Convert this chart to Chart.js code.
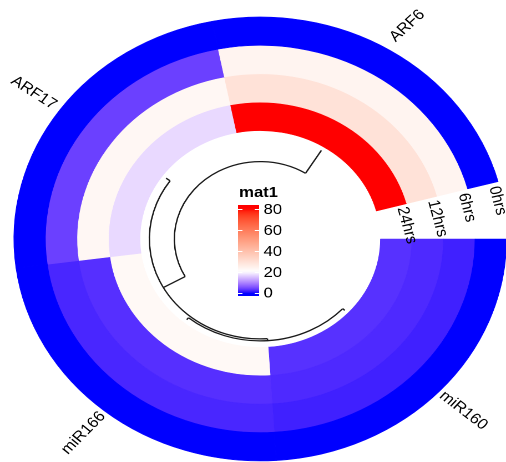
<!DOCTYPE html>
<html>
<head>
<meta charset="utf-8">
<script src="https://cdn.jsdelivr.net/npm/chart.js@4/dist/chart.umd.min.js"></script>
<style>
  html, body { margin: 0; padding: 0; background: #fff; overflow: hidden; }
  #wrap { position: absolute; left: 0; top: 0; width: 456px; height: 462px;
          transform: scaleX(1.1096); transform-origin: 0 0; }
</style>
</head>
<body>
<div id="wrap"><canvas id="c" width="456" height="462"></canvas></div>
<script>
// Sectors, listed clockwise from 3 o'clock
const genes = ['miR160', 'miR166', 'ARF17', 'ARF6'];
// Tracks, outermost first
const timepoints = ['0hrs', '6hrs', '12hrs', '24hrs'];
// Expression per gene (same order as genes)
const hrs0  = [0, 0, 0, 0];
const hrs6  = [1.3, 1.7, 3.6, 23.5];
const hrs12 = [1.9, 2.3, 22.5, 29];
const hrs24 = [2.4, 22, 16.8, 80];
// Legend
const legendTitle = 'mat1';
const legendTicks = [0, 20, 40, 60, 80];
const colorBreaks = [0, 20, 80];
const colorStops  = ['#0000FF', '#FFFFFF', '#FF0000'];
// Row dendrogram (hclust style: negative = leaf index into genes, 1-based; positive = earlier merge)
const dendroMerge  = [[-2, -1], [-3, 1], [-4, 2]];
const dendroHeight = [2.5, 4.5, 27];

const trackValues = [hrs0, hrs6, hrs12, hrs24];

// Small per-label turn (degrees) applied on top of the radial reading direction
const geneLabelTurn = [-3, 2.5, -0.5, 13];

// ---- colour ramp interpolated in CIE Lab ----
function hexToRgb(h) { const n = parseInt(h.slice(1), 16); return [(n >> 16) & 255, (n >> 8) & 255, n & 255]; }
function toLin(c) { c /= 255; return c <= 0.04045 ? c / 12.92 : Math.pow((c + 0.055) / 1.055, 2.4); }
function fromLin(c) { c = Math.min(1, Math.max(0, c)); return 255 * (c <= 0.0031308 ? 12.92 * c : 1.055 * Math.pow(c, 1 / 2.4) - 0.055); }
const WX = 0.95047, WY = 1, WZ = 1.08883;
function rgbToLab([r, g, b]) {
  const R = toLin(r), G = toLin(g), B = toLin(b);
  const X = (0.4124 * R + 0.3576 * G + 0.1805 * B) / WX;
  const Y = (0.2126 * R + 0.7152 * G + 0.0722 * B) / WY;
  const Z = (0.0193 * R + 0.1192 * G + 0.9505 * B) / WZ;
  const f = t => t > 0.008856 ? Math.cbrt(t) : 7.787 * t + 16 / 116;
  const fx = f(X), fy = f(Y), fz = f(Z);
  return [116 * fy - 16, 500 * (fx - fy), 200 * (fy - fz)];
}
function labToRgb([L, a, b]) {
  const fy = (L + 16) / 116, fx = fy + a / 500, fz = fy - b / 200;
  const fi = t => t * t * t > 0.008856 ? t * t * t : (t - 16 / 116) / 7.787;
  const X = fi(fx) * WX, Y = fi(fy) * WY, Z = fi(fz) * WZ;
  const R = 3.2406 * X - 1.5372 * Y - 0.4986 * Z;
  const G = -0.9689 * X + 1.8758 * Y + 0.0415 * Z;
  const B = 0.0557 * X - 0.2040 * Y + 1.0570 * Z;
  return [fromLin(R), fromLin(G), fromLin(B)].map(Math.round);
}
const stopLabs = colorStops.map(c => rgbToLab(hexToRgb(c)));
function colorFor(v) {
  const br = colorBreaks;
  if (v <= br[0]) return colorStops[0];
  if (v >= br[br.length - 1]) return colorStops[colorStops.length - 1];
  let i = 0;
  while (v > br[i + 1]) i++;
  const t = (v - br[i]) / (br[i + 1] - br[i]);
  const a = stopLabs[i], b = stopLabs[i + 1];
  const rgb = labToRgb([0, 1, 2].map(k => a[k] + (b[k] - a[k]) * t));
  return `rgb(${rgb[0]},${rgb[1]},${rgb[2]})`;
}

// ---- annotations: dendrogram, labels, legend ----
const FONT = '"Liberation Sans", Arial, Helvetica, sans-serif';
const annotations = {
  id: 'circularAnnotations',
  afterDatasetsDraw(chart) {
    const ctx = chart.ctx;
    const innerArcs = chart.getDatasetMeta(timepoints.length - 1).data;
    const outerArcs = chart.getDatasetMeta(0).data;
    const cx = innerArcs[0].x, cy = innerArcs[0].y;
    const mid = a => (a.startAngle + a.endAngle) / 2;

    // dendrogram
    const leafR = innerArcs[0].innerRadius - 4;
    const depth = 27;
    const maxH = Math.max(...dendroHeight);
    const rOf = h => leafR - h / maxH * depth;
    const nodes = [];
    const child = id => id < 0 ? { ang: mid(innerArcs[-id - 1]), r: leafR } : nodes[id - 1];
    ctx.save();
    ctx.strokeStyle = '#1a1a1a';
    ctx.lineWidth = 1.3;
    dendroMerge.forEach(([l, r], i) => {
      const a = child(l), b = child(r);
      const rr = rOf(dendroHeight[i]);
      const lo = Math.min(a.ang, b.ang), hi = Math.max(a.ang, b.ang);
      ctx.beginPath();
      ctx.arc(cx, cy, rr, lo, hi);
      ctx.stroke();
      [a, b].forEach(c => {
        ctx.beginPath();
        ctx.moveTo(cx + rr * Math.cos(c.ang), cy + rr * Math.sin(c.ang));
        ctx.lineTo(cx + c.r * Math.cos(c.ang), cy + c.r * Math.sin(c.ang));
        ctx.stroke();
      });
      nodes.push({ ang: (a.ang + b.ang) / 2, r: rr });
    });
    ctx.restore();

    // gene names around the outside
    ctx.save();
    ctx.fillStyle = '#000';
    ctx.font = `15px ${FONT}`;
    ctx.textAlign = 'center';
    ctx.textBaseline = 'middle';
    outerArcs.forEach((arc, i) => {
      const ang = mid(arc);
      const r = arc.outerRadius + 29;
      ctx.save();
      ctx.translate(cx + r * Math.cos(ang), cy + r * Math.sin(ang));
      ctx.rotate((Math.cos(ang) >= 0 ? ang : ang + Math.PI) + geneLabelTurn[i] * Math.PI / 180);
      ctx.fillText(genes[i], 0, 0);
      ctx.restore();
    });

    // track names in the gap
    ctx.textAlign = 'left';
    timepoints.forEach((name, t) => {
      const arc = chart.getDatasetMeta(t).data[genes.length - 1];
      const ang = arc.endAngle + Math.PI / 180;
      const r = (arc.innerRadius + arc.outerRadius) / 2 + 9;
      ctx.save();
      ctx.translate(cx + r * Math.cos(ang), cy + r * Math.sin(ang));
      ctx.rotate(ang + Math.PI / 2);
      ctx.fillText(name, 0, 0);
      ctx.restore();
    });
    ctx.restore();

    // colour legend
    const lx = cx - 20, bw = 19;
    const lo = legendTicks[0], hi = legendTicks[legendTicks.length - 1];
    const yLo = cy + 53.5, yHi = cy - 30;
    const yOf = v => yLo + (v - lo) / (hi - lo) * (yHi - yLo);
    const barTop = yHi - 4, barBot = yLo + 3.5;
    ctx.save();
    ctx.fillStyle = '#000';
    ctx.font = `bold 15px ${FONT}`;
    ctx.textBaseline = 'alphabetic';
    ctx.textAlign = 'left';
    ctx.fillText(legendTitle, lx + 1, cy - 42);
    const grad = ctx.createLinearGradient(0, barBot, 0, barTop);
    const n = 40;
    for (let k = 0; k <= n; k++) {
      const y = barBot + (barTop - barBot) * k / n;
      const v = lo + (y - yLo) / (yHi - yLo) * (hi - lo);
      grad.addColorStop(k / n, colorFor(v));
    }
    ctx.fillStyle = grad;
    ctx.fillRect(lx, barTop, bw, barBot - barTop);
    ctx.strokeStyle = '#fff';
    ctx.lineWidth = 1;
    legendTicks.forEach(v => {
      const y = Math.round(yOf(v)) + 0.5;
      ctx.beginPath();
      ctx.moveTo(lx, y); ctx.lineTo(lx + 4, y);
      ctx.moveTo(lx + bw - 4, y); ctx.lineTo(lx + bw, y);
      ctx.stroke();
    });
    ctx.fillStyle = '#000';
    ctx.font = `15px ${FONT}`;
    ctx.textBaseline = 'middle';
    legendTicks.forEach(v => ctx.fillText(String(v), lx + bw + 4, yOf(v) + 1));
    ctx.restore();
  }
};

new Chart(document.getElementById('c'), {
  type: 'doughnut',
  data: {
    labels: genes,
    datasets: timepoints.map((tp, t) => ({
      label: tp,
      data: genes.map(() => 1),          // equal-width sectors
      values: trackValues[t],
      backgroundColor: trackValues[t].map(colorFor),
      borderColor: trackValues[t].map(colorFor),
      borderWidth: 0.6,
      hoverOffset: 0
    }))
  },
  options: {
    responsive: false,
    devicePixelRatio: 2,
    animation: false,
    rotation: 90,
    circumference: 345,
    radius: 222,
    cutout: 108,
    layout: { padding: { left: 13, right: 0, top: 16, bottom: 0 } },
    plugins: { legend: { display: false }, tooltip: { enabled: false } }
  },
  plugins: [annotations]
});
</script>
</body>
</html>
